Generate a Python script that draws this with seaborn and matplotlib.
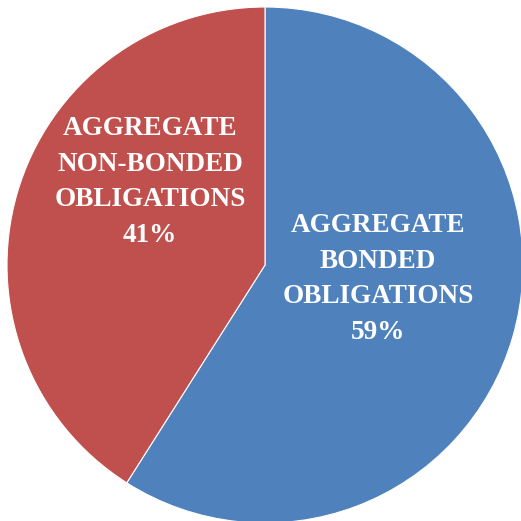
import matplotlib
matplotlib.use("Agg")
import matplotlib.pyplot as plt
import seaborn as sns

categories = ["AGGREGATE\nBONDED\nOBLIGATIONS", "AGGREGATE\nNON-BONDED\nOBLIGATIONS"]
shares = [59, 41]
colors = ["#4F81BD", "#C0504D"]

sns.set_style("white")
plt.rcParams["font.family"] = ["Liberation Serif", "DejaVu Serif"]

W = 521
fig = plt.figure(figsize=(W / 100, W / 100), dpi=100)
ax = fig.add_axes([0, 0, 1, 1])

cx, cy, r = 265, W - 265, 258
wedges, _ = ax.pie(
    shares,
    colors=colors,
    startangle=90,
    counterclock=False,
    center=(cx, cy),
    radius=r,
    frame=True,
    wedgeprops=dict(edgecolor="white", linewidth=0.8),
)
ax.set_xlim(0, W)
ax.set_ylim(0, W)
ax.set_aspect("equal")
ax.axis("off")

label_pos = [(378, W - 279), (150, W - 182)]
for cat, val, (x, y) in zip(categories, shares, label_pos):
    ax.text(x, y, f"{cat}\n{val}%", ha="center", va="center",
            color="white", fontsize=19.5, fontweight="bold", linespacing=1.55)

fig.savefig("out.png", dpi=100)
